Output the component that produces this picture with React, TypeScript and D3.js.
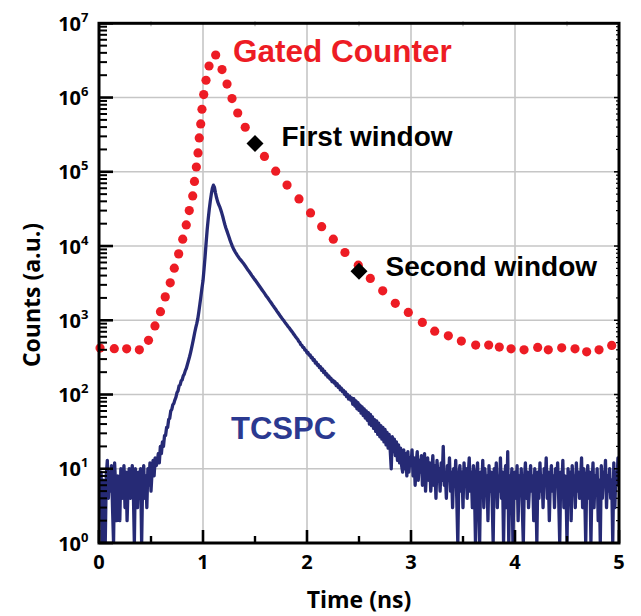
import * as d3 from "d3";

// Gated counter readings (time in ns, counts)
const gatedTime = [
  0.01, 0.147, 0.266, 0.388, 0.476, 0.538, 0.591, 0.637, 0.685, 0.724,
  0.766, 0.805, 0.839, 0.868, 0.901, 0.918, 0.936, 0.952, 0.964, 0.978,
  0.99, 1.007, 1.029, 1.058, 1.122, 1.183, 1.231, 1.279, 1.334, 1.406,
  1.5, 1.591, 1.699, 1.808, 1.923, 2.034, 2.141, 2.253, 2.365, 2.493,
  2.609, 2.728, 2.849, 2.974, 3.109, 3.228, 3.359, 3.484, 3.622, 3.747,
  3.849, 3.962, 4.087, 4.218, 4.32, 4.449, 4.577, 4.689, 4.808, 4.93,
];
const gatedCounts = [
  422, 415, 413, 400, 537, 839, 1306, 2066, 3190, 5030,
  7840, 12360, 19270, 30060, 47300, 74100, 116000, 179500, 286000, 441000,
  695000, 1096000, 1710000, 2660000, 3740000, 2380000, 1520000, 968000, 619000, 398000,
  250000, 161000, 102000, 66300, 43100, 27900, 18200, 12360, 8180, 5520,
  3660, 2490, 1690, 1275, 935, 714, 617, 524, 463, 463,
  435, 412, 400, 431, 400, 425, 412, 376, 400, 459,
];

// window markers
const windowTimes = [1.5, 2.5];
const windowCounts = [240000, 4590];
const windowLabels = ["First window", "Second window"];

// TCSPC histogram, 0.01 ns bins, split by segment start time
const tcspcStep = 0.01;
const tcspcBaseline = [
  6, 3, 9, 1, 7, 4, 1, 8, 13, 4,
  9, 5, 11, 3, 1, 12, 6, 2, 8, 5,
  2, 10, 4, 7, 11, 3, 9, 2, 6, 10,
  4, 8, 11, 5, 1, 10, 6, 3, 9, 4,
  10, 1, 7, 11, 4, 8, 3, 10, 6, 12,
  5, 9, 13, 8, 14, 11,
];
const tcspcPeak = [
  12, 16, 12, 20, 16, 23, 20, 28, 28, 36,
  36, 46, 48, 60, 63, 73, 76, 85, 92, 106,
  112, 131, 135, 153, 158, 178, 188, 210, 226, 254,
  285, 320, 365, 420, 490, 575, 680, 790, 900, 1050,
  1300, 1650, 2100, 2700, 3400, 4900, 7200, 11000, 16500, 23000,
  31000, 40000, 50000, 60000, 66000, 62000, 52000, 45000, 40000, 36500,
  34000, 31000, 28000, 25000, 22000, 19500, 17500, 16000, 14500, 13200,
  12000, 11000, 10100, 9400, 8800, 8300, 7900, 7500, 7150, 6800,
  6550, 6300, 6050, 5800, 5550, 5300, 5050, 4800, 4600, 4400,
  4200, 4000, 3820, 3650, 3500, 3350, 3200,
];
const tcspcDecay = [
  3060, 2920, 2790, 2660, 2540, 2430, 2320, 2210, 2110, 2020,
  1930, 1840, 1760, 1680, 1600, 1530, 1460, 1400, 1330, 1270,
  1215, 1160, 1110, 1060, 1015, 975, 930, 890, 855, 815,
  790, 750, 720, 690, 655, 630, 600, 575, 555, 520,
  505, 470, 462, 432, 428, 395, 395, 362, 368, 340,
  342, 312, 316, 288, 294, 265, 272, 248, 252, 230,
  236, 212, 220, 197, 205, 184, 190, 172, 178, 162,
  166, 150, 156, 143, 148, 132, 140, 125, 130, 116,
  122, 110, 114, 101, 108, 94, 100, 87, 95, 84,
  90, 74, 88, 70, 82, 64, 78, 61, 72, 56,
  68, 52, 64, 48, 60, 45, 57, 40, 54, 38,
  50, 35, 46, 32, 44, 29, 41, 27, 38, 25,
  36, 23, 34, 21, 31, 19, 29, 18, 10, 27,
  17, 25, 15, 23, 13, 21, 12, 19, 11, 9,
  18, 10, 16, 8, 17, 9, 14, 11,
];
const tcspcTail = [
  18, 8, 14, 6, 12, 17, 7, 13, 9, 15,
  6, 11, 16, 5, 10, 14, 7, 12, 5, 9,
  15, 6, 11, 4, 13, 8, 10, 5, 12, 7,
  20, 6, 9, 4, 11, 7, 14, 5, 9, 3,
  10, 6, 13, 4, 1, 8, 11, 5, 9, 3,
  12, 6, 10, 4, 8, 14, 5, 9, 3, 11,
  6, 1, 8, 12, 4, 1, 9, 5, 13, 3,
  10, 6, 8, 2, 11, 5, 9, 4, 1, 10,
  6, 12, 3, 8, 5, 14, 4, 9, 1, 7,
  11, 3, 17, 1, 8, 5, 10, 1, 6, 9,
  4, 11, 2, 8, 5, 10, 3, 1, 7, 12,
  4, 9, 3, 6, 11, 5, 8, 2, 10, 6,
  1, 9, 4, 12, 5, 8, 3, 10, 6, 14,
  4, 9, 2, 7, 11, 5, 8, 3, 10, 6,
  12, 4, 1, 9, 5, 13, 3, 8, 6, 1,
  10, 4, 9, 2, 11, 6, 8, 3, 12, 5,
  9, 4, 7, 14, 3, 10, 5, 1, 8, 11,
  4, 9, 1, 6, 12, 3, 8, 5, 10, 2,
  7, 1, 11, 4, 9, 6, 13, 3, 8, 5,
  10, 4, 7, 1, 12, 3, 9, 6, 14, 8,
];
const tcspcSegments: [number, number[]][] = [
  [0, tcspcBaseline],
  [0.56, tcspcPeak],
  [1.53, tcspcDecay],
  [3.01, tcspcTail],
];

const xTicks = [0, 1, 2, 3, 4, 5];
const yExponents = [0, 1, 2, 3, 4, 5, 6, 7];

const RED = "#ed1c24";
const NAVY = "#262a75";
const TICK_FONT = "'Open Sans', 'DejaVu Sans', sans-serif";
const NOTE_FONT = "'Liberation Sans', Arial, sans-serif";

export default function App() {
  const left = 99, right = 619, top = 23.3, bottom = 543;
  const x = d3.scaleLinear().domain([0, 5]).range([left, right]);
  const y = d3.scaleLog().domain([1, 1e7]).range([bottom, top]);

  const tcspc: [number, number][] = [];
  tcspcSegments.forEach(([t0, vals]) =>
    vals.forEach((c, i) => tcspc.push([t0 + i * tcspcStep, c]))
  );
  const tcspcPath =
    d3
      .line<[number, number]>()
      .x((d) => x(d[0]))
      .y((d) => y(Math.max(d[1], 1)))(tcspc) ?? "";

  const minorY: number[] = [];
  for (let e = 0; e < 7; e++) for (let m = 2; m <= 9; m++) minorY.push(m * 10 ** e);
  const minorX = d3.range(0.5, 5, 1);

  return (
    <svg width={641} height={616} style={{ position: "absolute", left: 0, top: 0 }}>
      <rect width={641} height={616} fill="#fff" />
      <defs>
        <clipPath id="plotArea">
          <rect x={left} y={top} width={right - left} height={bottom - top} />
        </clipPath>
      </defs>

      {/* grid */}
      <g stroke="#c6c6c6" strokeWidth={1.6}>
        {xTicks.map((t) => (
          <line key={"gx" + t} x1={x(t)} x2={x(t)} y1={top} y2={bottom} />
        ))}
        {yExponents.map((e) => (
          <line key={"gy" + e} x1={left} x2={right} y1={y(10 ** e)} y2={y(10 ** e)} />
        ))}
      </g>

      {/* TCSPC trace */}
      <g clipPath="url(#plotArea)">
        <path d={tcspcPath} fill="none" stroke={NAVY} strokeWidth={3.3} strokeLinejoin="round" />
      </g>

      {/* gated counter dots */}
      {gatedTime.map((t, i) => (
        <circle key={"g" + i} cx={x(t)} cy={y(gatedCounts[i])} r={4.6} fill={RED} />
      ))}

      {/* window markers */}
      {windowTimes.map((t, i) => (
        <path
          key={"w" + i}
          d="M0,-8.5L8.5,0L0,8.5L-8.5,0Z"
          transform={`translate(${x(t)},${y(windowCounts[i])})`}
          fill="#000"
        />
      ))}

      {/* frame and ticks */}
      <g stroke="#000" fill="none">
        {yExponents.map((e) => (
          <line key={"ly" + e} x1={left} x2={left + 14} y1={y(10 ** e)} y2={y(10 ** e)} strokeWidth={2.6} />
        ))}
        {minorY.map((v, i) => (
          <line key={"lm" + i} x1={left} x2={left + 8} y1={y(v)} y2={y(v)} strokeWidth={2} />
        ))}
        {yExponents.map((e) => (
          <line key={"ry" + e} x1={right} x2={right - 5} y1={y(10 ** e)} y2={y(10 ** e)} strokeWidth={1.5} />
        ))}
        {minorY.map((v, i) => (
          <line key={"rm" + i} x1={right} x2={right - 3} y1={y(v)} y2={y(v)} strokeWidth={1.2} />
        ))}
        {xTicks.map((t) => (
          <line key={"bx" + t} x1={x(t)} x2={x(t)} y1={bottom} y2={bottom - 13} strokeWidth={2.6} />
        ))}
        {minorX.map((t) => (
          <line key={"bm" + t} x1={x(t)} x2={x(t)} y1={bottom} y2={bottom - 7} strokeWidth={2.4} />
        ))}
        {minorX.map((t) => (
          <line key={"tm" + t} x1={x(t)} x2={x(t)} y1={top - 2} y2={top + 3} strokeWidth={1.2} stroke="#aaa" />
        ))}
        <rect x={left} y={top} width={right - left} height={bottom - top} strokeWidth={3} />
      </g>

      {/* tick labels */}
      <g fontFamily={TICK_FONT} fontWeight={700} fill="#000">
        {yExponents.map((e) => (
          <text key={"yl" + e} x={88.5} y={y(10 ** e) + 7.5} fontSize={20} textAnchor="end">
            10
            <tspan dy={-9} fontSize={13}>
              {e}
            </tspan>
          </text>
        ))}
        {xTicks.map((t) => (
          <text key={"xl" + t} x={x(t)} y={569} fontSize={20} textAnchor="middle">
            {t}
          </text>
        ))}
        <text x={x(2.5)} y={608} fontSize={23} textAnchor="middle">
          Time (ns)
        </text>
        <text transform="translate(39.5,295) rotate(-90)" fontSize={23} textAnchor="middle">
          Counts (a.u.)
        </text>
      </g>

      {/* annotations */}
      <g fontFamily={NOTE_FONT} fontWeight={700}>
        <text x={233} y={61.5} fontSize={31.5} fill={RED}>
          Gated Counter
        </text>
        <text x={231} y={439} fontSize={31} fill="#2b3990">
          TCSPC
        </text>
        {windowLabels.map((label, i) => (
          <text
            key={label}
            x={x(windowTimes[i]) + 26.5}
            y={y(windowCounts[i]) + (i === 0 ? 2.5 : 5)}
            fontSize={28}
            fill="#000"
          >
            {label}
          </text>
        ))}
      </g>
    </svg>
  );
}
